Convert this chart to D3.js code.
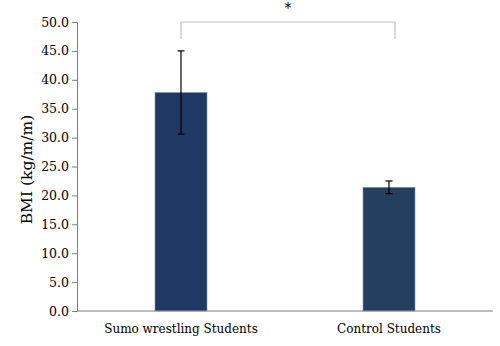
<!DOCTYPE html>
<html>
<head>
<meta charset="utf-8">
<script src="https://cdn.jsdelivr.net/npm/d3@7"></script>
<style>
  html, body { margin: 0; padding: 0; background: #fff; }
  svg { display: block; }
  text { font-family: "DejaVu Serif", "Liberation Serif", serif; fill: #000; }
</style>
</head>
<body>
<svg id="chart" width="500" height="346"></svg>
<script>
// Mean BMI per group with standard deviation
const groups = ["Sumo wrestling Students", "Control Students"];
const means = [37.8, 21.4];
const sds = [7.2, 1.1];
const barColors = ["#203864", "#243f60"];
const yTicks = [0, 5, 10, 15, 20, 25, 30, 35, 40, 45, 50];
const yTitle = "BMI (kg/m/m)";
const sigMark = "*";

const svg = d3.select("#chart");
const margin = { left: 77, right: 7, top: 22, bottom: 35 };
const W = 500, H = 346;

const x = d3.scaleBand()
  .domain(groups)
  .range([margin.left, W - margin.right])
  .paddingInner(0.75)
  .paddingOuter(0.375);

const y = d3.scaleLinear()
  .domain([0, 50])
  .range([H - margin.bottom, margin.top]);

// y axis
const yAxis = svg.append("g")
  .attr("transform", `translate(${margin.left},0)`)
  .call(d3.axisLeft(y).tickValues(yTicks).tickFormat(d3.format(".1f")).tickSize(5).tickSizeOuter(0));
yAxis.select(".domain").attr("stroke", "#7f7f7f");
yAxis.selectAll(".tick line").attr("stroke", "#7f7f7f");
yAxis.selectAll(".tick text")
  .attr("x", -8)
  .style("font-size", "12.5px")
  .style("font-family", "'DejaVu Serif', serif")
  .style("fill", "#000");

// bars
svg.append("g").selectAll("rect")
  .data(groups)
  .join("rect")
  .attr("x", d => x(d))
  .attr("width", x.bandwidth())
  .attr("y", (d, i) => y(means[i]))
  .attr("height", (d, i) => y(0) - y(means[i]))
  .attr("fill", (d, i) => barColors[i])
  .attr("stroke", "#8193b0")
  .attr("stroke-width", 0.6);

// x axis baseline
svg.append("line")
  .attr("x1", margin.left).attr("x2", W - margin.right)
  .attr("y1", y(0)).attr("y2", y(0))
  .attr("stroke", "#7f7f7f").attr("stroke-width", 1);

// x category labels
svg.append("g").selectAll("text")
  .data(groups)
  .join("text")
  .attr("x", d => x(d) + x.bandwidth() / 2)
  .attr("y", y(0) + 22)
  .attr("text-anchor", "middle")
  .style("font-size", "12px")
  .text(d => d);

// error bars
const eb = svg.append("g").attr("stroke", "#000").attr("stroke-width", 1.2);
groups.forEach((g, i) => {
  const cx = x(g) + x.bandwidth() / 2;
  const hi = y(means[i] + sds[i]), lo = y(means[i] - sds[i]);
  eb.append("line").attr("x1", cx).attr("x2", cx).attr("y1", hi).attr("y2", lo);
  eb.append("line").attr("x1", cx - 3.5).attr("x2", cx + 3.5).attr("y1", hi).attr("y2", hi);
  eb.append("line").attr("x1", cx - 3.5).attr("x2", cx + 3.5).attr("y1", lo).attr("y2", lo);
});

// significance bracket
const c0 = x(groups[0]) + x.bandwidth() / 2;
const c1 = x(groups[1]) + x.bandwidth() / 2 + 6;
svg.append("path")
  .attr("d", `M${c0},39 V22 H${c1} V39`)
  .attr("fill", "none")
  .attr("stroke", "#bfbfbf")
  .attr("stroke-width", 1.2);
svg.append("text")
  .attr("x", (c0 + c1) / 2)
  .attr("y", 13)
  .attr("text-anchor", "middle")
  .style("font-size", "14px")
  .text(sigMark);

// y axis title
svg.append("text")
  .attr("transform", `translate(32,${(y(0) + y(50)) / 2 + 3}) rotate(-90)`)
  .attr("text-anchor", "middle")
  .style("font-size", "15.5px")
  .text(yTitle);
</script>
</body>
</html>
